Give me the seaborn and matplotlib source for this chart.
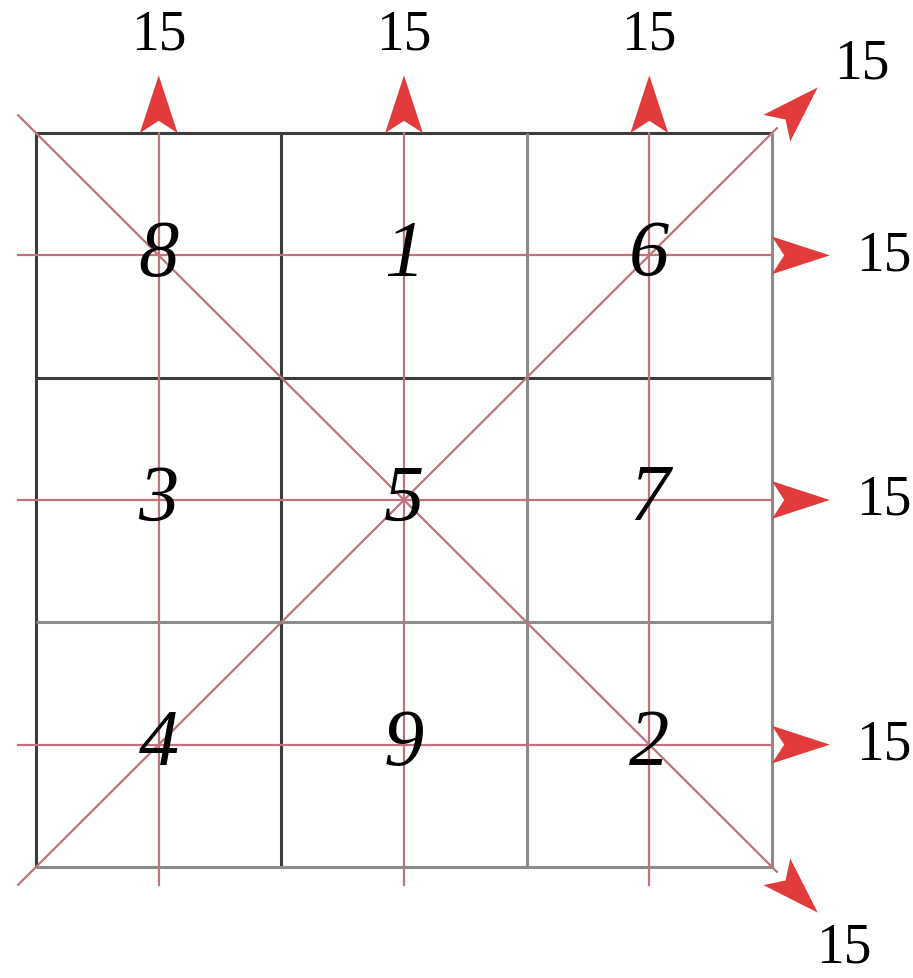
import numpy as np
import pandas as pd
import matplotlib
matplotlib.use("Agg")
import matplotlib.pyplot as plt
import seaborn as sns
from matplotlib.colors import ListedColormap
from matplotlib.patches import Polygon

# magic square values
square = [[8, 1, 6],
          [3, 5, 7],
          [4, 9, 2]]
row_names = ["r1", "r2", "r3"]
col_names = ["c1", "c2", "c3"]

df = pd.DataFrame(square, index=row_names, columns=col_names)
grid = df.values
n = grid.shape[0]

row_sums = grid.sum(axis=1)
col_sums = grid.sum(axis=0)
diag_sum = np.trace(grid)
anti_sum = np.trace(np.fliplr(grid))

LINE_RED = "#c0737a"
HEAD_RED = "#e23b3b"
DARK = "#3c3c3c"
GRAY = "#8c8c8c"

fig = plt.figure(figsize=(9.13, 9.79), dpi=100)
ax = fig.add_axes([0, 0, 1, 1])

sns.heatmap(df, ax=ax, annot=True, fmt="d", cmap=ListedColormap(["white"]),
            cbar=False, xticklabels=False, yticklabels=False, linewidths=0,
            annot_kws=dict(fontsize=58, fontstyle="italic", family="Liberation Serif",
                           color="black", zorder=5))

ax.set_xlim(-0.147, 3.575)
ax.set_ylim(3.454, -0.548)
ax.axis("off")

# grid lines
for k in range(n + 1):
    c = DARK if k < 2 else GRAY
    ax.plot([k, k], [0, n], color=c, lw=2.2, zorder=2, solid_capstyle="butt")
    ax.plot([0, n], [k, k], color=c, lw=2.2, zorder=2, solid_capstyle="butt")


def arrow_head(ax, base, direction, length=0.236, half_w=0.077, notch=0.05):
    d = np.asarray(direction, float)
    d = d / np.linalg.norm(d)
    p = np.array([-d[1], d[0]])
    b = np.asarray(base, float)
    tip = b + d * length
    pts = [tip, b + p * half_w, b + d * notch, b - p * half_w]
    ax.add_patch(Polygon(pts, closed=True, facecolor=HEAD_RED, edgecolor="none", zorder=6))
    return tip


over = 0.073
lbl_kw = dict(fontsize=40, family="Liberation Serif", color="black",
              ha="center", va="center", zorder=7)

# rows -> arrows to the right
for i in range(n):
    y = i + 0.5
    ax.plot([-over, n], [y, y], color=LINE_RED, lw=1.6, zorder=3)
    arrow_head(ax, (n, y), (1, 0))
    ax.text(3.455, y, str(row_sums[i]), **lbl_kw)

# columns -> arrows upward
for j in range(n):
    x = j + 0.5
    ax.plot([x, x], [n + over, 0], color=LINE_RED, lw=1.6, zorder=3)
    arrow_head(ax, (x, 0), (0, -1))
    ax.text(x, -0.404, str(col_sums[j]), **lbl_kw)

# main diagonal -> down right
ax.plot([-over, n + 0.02], [-over, n + 0.02], color=LINE_RED, lw=1.6, zorder=3)
arrow_head(ax, (n + 0.02, n + 0.02), (1, 1))
ax.text(3.293, 3.33, str(diag_sum), **lbl_kw)

# anti diagonal -> up right
ax.plot([-over, n + 0.02], [n + over, -0.02], color=LINE_RED, lw=1.6, zorder=3)
arrow_head(ax, (n + 0.02, -0.02), (1, -1))
ax.text(3.367, -0.286, str(anti_sum), **lbl_kw)

plt.savefig("out.png", dpi=100)
